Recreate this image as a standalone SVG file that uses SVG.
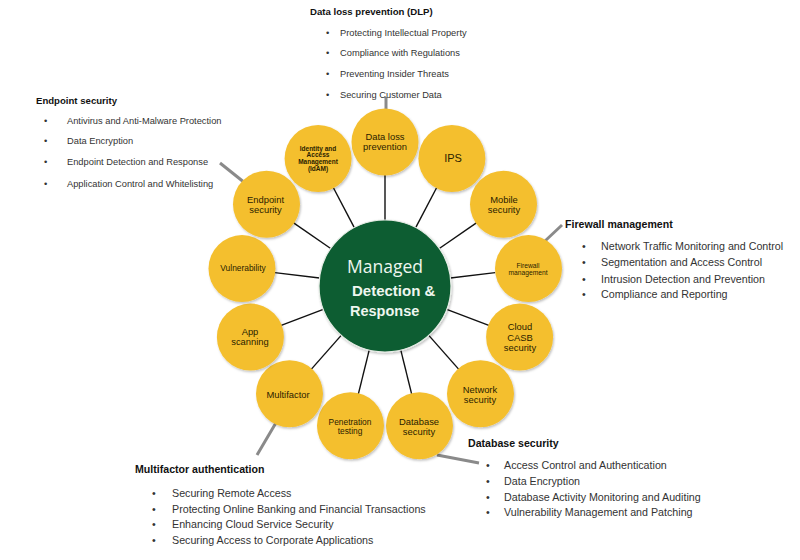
<svg xmlns="http://www.w3.org/2000/svg" width="800" height="560" viewBox="0 0 800 560">
<defs>
<filter id="sh" x="-20%" y="-20%" width="140%" height="140%">
<feDropShadow dx="1" dy="1.5" stdDeviation="1.2" flood-color="#000" flood-opacity="0.25"/>
</filter>
<style>
.sat{fill:#F4BF2F;filter:url(#sh)}
.lbl{font-family:"Liberation Sans",Arial,sans-serif;fill:#2b2200;text-anchor:middle;font-size:9.4px}
.tiny{font-family:"Liberation Sans",Arial,sans-serif;fill:#2b2200;text-anchor:middle;font-size:6.5px;font-weight:bold}
.conn line{stroke:#111;stroke-width:1.4}
.call line{stroke:#8a8a8a;stroke-width:3}
.h{font-family:"Liberation Sans",Arial,sans-serif;font-weight:bold;fill:#111}
.b{font-family:"Liberation Sans",Arial,sans-serif;fill:#333}
</style>
</defs>
<rect width="800" height="560" fill="#fff"/>

<g id="connectors" class="conn">
<line x1="385" y1="220" x2="385" y2="175"/>
<line x1="415.7" y1="227.6" x2="436.6" y2="187.7"/>
<line x1="439.3" y1="248.5" x2="476.4" y2="222.9"/>
<line x1="450.5" y1="278.0" x2="495.2" y2="272.6"/>
<line x1="446.7" y1="309.4" x2="488.8" y2="325.4"/>
<line x1="428.8" y1="335.4" x2="458.6" y2="369.1"/>
<line x1="400.8" y1="350.1" x2="411.6" y2="393.8"/>
<line x1="369.2" y1="350.1" x2="358.4" y2="393.8"/>
<line x1="341.2" y1="335.4" x2="311.4" y2="369.1"/>
<line x1="323.3" y1="309.4" x2="281.2" y2="325.4"/>
<line x1="319.5" y1="278.0" x2="274.8" y2="272.6"/>
<line x1="330.7" y1="248.5" x2="293.6" y2="222.9"/>
<line x1="354.3" y1="227.6" x2="333.4" y2="187.7"/>
</g>

<g id="callouts" class="call">
<line x1="386" y1="97" x2="386" y2="109"/>
<line x1="220" y1="163" x2="245" y2="183"/>
<line x1="545" y1="241" x2="562" y2="225"/>
<line x1="437" y1="455" x2="479" y2="463"/>
<line x1="277" y1="421" x2="257" y2="455"/>
</g>

<g id="center">
<circle cx="385" cy="286" r="66" fill="#0D5D30" stroke="#e6ece6" stroke-width="1.2" filter="url(#sh)"/>
<text x="347" y="273" font-family="'Open Sans','Liberation Sans',sans-serif" font-size="17.5" fill="#eef6ef">Managed</text>
<text x="352" y="296" font-family="'Liberation Sans',Arial,sans-serif" font-size="15" font-weight="bold" fill="#eef6ef">Detection &amp;</text>
<text x="350" y="316" font-family="'Liberation Sans',Arial,sans-serif" font-size="14.5" font-weight="bold" fill="#eef6ef">Response</text>
</g>

<g id="n-dlp"><circle class="sat" cx="385" cy="142" r="33.5"/>
<text class="lbl" x="385" y="139.5">Data loss</text><text class="lbl" x="385" y="149.5">prevention</text></g>
<g id="n-ips"><circle class="sat" cx="451.9" cy="158.5" r="33.5"/>
<text class="lbl" x="453" y="161.5" style="font-size:11px">IPS</text></g>
<g id="n-mobile"><circle class="sat" cx="503.5" cy="204.2" r="33.5"/>
<text class="lbl" x="504" y="202.5">Mobile</text><text class="lbl" x="504" y="212.5">security</text></g>
<g id="n-firewall"><circle class="sat" cx="528.5" cy="268.6" r="33.5"/>
<text class="lbl" x="528" y="268" style="font-size:6.7px">Firewall</text><text class="lbl" x="528" y="275" style="font-size:6.7px">management</text></g>
<g id="n-cloud"><circle class="sat" cx="519.6" cy="337.1" r="33.5"/>
<text class="lbl" x="520" y="330">Cloud</text><text class="lbl" x="520" y="340.5">CASB</text><text class="lbl" x="520" y="351">security</text></g>
<g id="n-network"><circle class="sat" cx="480.5" cy="393.8" r="33.5"/>
<text class="lbl" x="480" y="392.5">Network</text><text class="lbl" x="480" y="402.5">security</text></g>
<g id="n-database"><circle class="sat" cx="419.5" cy="425.8" r="33.5"/>
<text class="lbl" x="419" y="425">Database</text><text class="lbl" x="419" y="435">security</text></g>
<g id="n-pen"><circle class="sat" cx="350.5" cy="425.8" r="33.5"/>
<text class="lbl" x="350" y="424.5" style="font-size:8.4px">Penetration</text><text class="lbl" x="350" y="433.5" style="font-size:8.4px">testing</text></g>
<g id="n-multifactor"><circle class="sat" cx="289.5" cy="393.8" r="33.5"/>
<text class="lbl" x="288" y="398">Multifactor</text></g>
<g id="n-app"><circle class="sat" cx="250.4" cy="337.1" r="33.5"/>
<text class="lbl" x="250" y="335">App</text><text class="lbl" x="250" y="345">scanning</text></g>
<g id="n-vuln"><circle class="sat" cx="242" cy="268.6" r="33.5"/>
<text class="lbl" x="243" y="271" style="font-size:8.4px">Vulnerability</text></g>
<g id="n-endpoint"><circle class="sat" cx="266.5" cy="204.2" r="33.5"/>
<text class="lbl" x="265.5" y="202.5">Endpoint</text><text class="lbl" x="265.5" y="212.5">security</text></g>
<g id="n-idam"><circle class="sat" cx="318.1" cy="158.5" r="33.5"/>
<text class="tiny" x="318" y="150.5">Identity and</text><text class="tiny" x="318" y="157">Access</text><text class="tiny" x="318" y="163.5">Management</text><text class="tiny" x="318" y="170.5">(IdAM)</text></g>

<g id="t-dlp">
<text class="h" x="310" y="14.5" font-size="9.6">Data loss prevention (DLP)</text>
<g class="b" font-size="9.3">
<text x="326" y="35.5">•</text><text x="340" y="35.5">Protecting Intellectual Property</text>
<text x="326" y="56">•</text><text x="340" y="56">Compliance with Regulations</text>
<text x="326" y="76.5">•</text><text x="340" y="76.5">Preventing Insider Threats</text>
<text x="326" y="97.5">•</text><text x="340" y="97.5">Securing Customer Data</text>
</g></g>

<g id="t-endpoint">
<text class="h" x="36" y="103.5" font-size="9.6">Endpoint security</text>
<g class="b" font-size="9.3">
<text x="44" y="123.5">•</text><text x="67" y="123.5">Antivirus and Anti-Malware Protection</text>
<text x="44" y="144">•</text><text x="67" y="144">Data Encryption</text>
<text x="44" y="165">•</text><text x="67" y="165">Endpoint Detection and Response</text>
<text x="44" y="187">•</text><text x="67" y="187">Application Control and Whitelisting</text>
</g></g>

<g id="t-firewall">
<text class="h" x="565" y="227.5" font-size="10.6">Firewall management</text>
<g class="b" font-size="10.7">
<text x="582" y="250">•</text><text x="601" y="250">Network Traffic Monitoring and Control</text>
<text x="582" y="266">•</text><text x="601" y="266">Segmentation and Access Control</text>
<text x="582" y="282.5">•</text><text x="601" y="282.5">Intrusion Detection and Prevention</text>
<text x="582" y="297.5">•</text><text x="601" y="297.5">Compliance and Reporting</text>
</g></g>

<g id="t-database">
<text class="h" x="468" y="446.5" font-size="10.6">Database security</text>
<g class="b" font-size="10.7">
<text x="486" y="469">•</text><text x="504" y="469">Access Control and Authentication</text>
<text x="486" y="485">•</text><text x="504" y="485">Data Encryption</text>
<text x="486" y="501">•</text><text x="504" y="501">Database Activity Monitoring and Auditing</text>
<text x="486" y="515.5">•</text><text x="504" y="515.5">Vulnerability Management and Patching</text>
</g></g>

<g id="t-multifactor">
<text class="h" x="135" y="473" font-size="10.6">Multifactor authentication</text>
<g class="b" font-size="10.7">
<text x="152" y="497">•</text><text x="172" y="497">Securing Remote Access</text>
<text x="152" y="512.5">•</text><text x="172" y="512.5">Protecting Online Banking and Financial Transactions</text>
<text x="152" y="528">•</text><text x="172" y="528">Enhancing Cloud Service Security</text>
<text x="152" y="543.5">•</text><text x="172" y="543.5">Securing Access to Corporate Applications</text>
</g></g>
</svg>
